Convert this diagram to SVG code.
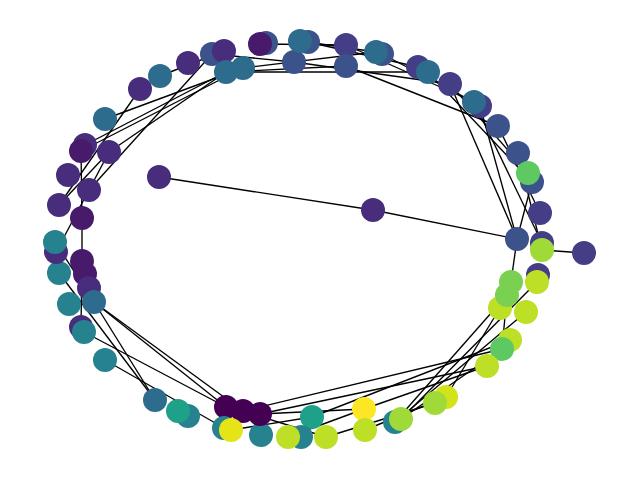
<svg xmlns="http://www.w3.org/2000/svg" width="640" height="480" viewBox="0 0 640 480">
<style>
.e line{stroke:#000;stroke-width:1.35}
circle{r:12}
.c0{fill:#440154}.c1{fill:#481a6c}.c2{fill:#472d7b}.c3{fill:#433e85}.c4{fill:#3b528b}.c5{fill:#2e6c8e}.c6{fill:#26828e}.c7{fill:#1fa088}.c8{fill:#5ec962}.c9{fill:#7ad151}.c10{fill:#a0da39}.c11{fill:#bddf26}.c12{fill:#fde725}.c13{fill:#e5e419}.c14{fill:#d2e21b}
</style>
<rect width="640" height="480" fill="#fff"/>
<g class="e" id="edges">
<line x1="81" y1="151" x2="82" y2="218"/>
<line x1="82" y1="218" x2="82" y2="261"/>
<line x1="109" y1="152" x2="59" y2="205"/>
<line x1="109" y1="152" x2="89" y2="190"/>
<line x1="89" y1="190" x2="56" y2="252"/>
<line x1="59" y1="205" x2="140" y2="89"/>
<line x1="85" y1="145" x2="226" y2="72"/>
<line x1="81" y1="151" x2="243" y2="68"/>
<line x1="105" y1="119" x2="243" y2="68"/>
<line x1="89" y1="190" x2="212" y2="54"/>
<line x1="109" y1="152" x2="226" y2="72"/>
<line x1="160" y1="76" x2="224" y2="51"/>
<line x1="226" y1="72" x2="346" y2="66"/>
<line x1="243" y1="68" x2="376" y2="52"/>
<line x1="212" y1="54" x2="294" y2="62"/>
<line x1="260" y1="44" x2="346" y2="45"/>
<line x1="300" y1="41" x2="376" y2="52"/>
<line x1="294" y1="62" x2="450" y2="84"/>
<line x1="308" y1="42" x2="418" y2="67"/>
<line x1="346" y1="66" x2="498" y2="126"/>
<line x1="346" y1="45" x2="474" y2="102"/>
<line x1="382" y1="54" x2="474" y2="102"/>
<line x1="226" y1="72" x2="428" y2="72"/>
<line x1="428" y1="72" x2="532" y2="182"/>
<line x1="450" y1="84" x2="528" y2="173"/>
<line x1="450" y1="84" x2="517" y2="239"/>
<line x1="474" y1="102" x2="542" y2="243"/>
<line x1="498" y1="126" x2="540" y2="213"/>
<line x1="532" y1="182" x2="517" y2="239"/>
<line x1="480" y1="106" x2="517" y2="239"/>
<line x1="517" y1="239" x2="511" y2="282"/>
<line x1="517" y1="239" x2="373" y2="210"/>
<line x1="373" y1="210" x2="159" y2="177"/>
<line x1="542" y1="250" x2="584" y2="253"/>
<line x1="518" y1="153" x2="542" y2="250"/>
<line x1="537" y1="282" x2="401" y2="419"/>
<line x1="526" y1="312" x2="395" y2="422"/>
<line x1="500" y1="308" x2="446" y2="397"/>
<line x1="507" y1="295" x2="502" y2="349"/>
<line x1="487" y1="366" x2="364" y2="409"/>
<line x1="502" y1="349" x2="401" y2="419"/>
<line x1="365" y1="430" x2="446" y2="397"/>
<line x1="326" y1="437" x2="435" y2="403"/>
<line x1="260" y1="414" x2="487" y2="366"/>
<line x1="312" y1="417" x2="510" y2="340"/>
<line x1="243" y1="411" x2="502" y2="349"/>
<line x1="395" y1="422" x2="507" y2="295"/>
<line x1="288" y1="437" x2="364" y2="409"/>
<line x1="260" y1="414" x2="364" y2="409"/>
<line x1="94" y1="302" x2="155" y2="400"/>
<line x1="94" y1="302" x2="226" y2="407"/>
<line x1="94" y1="302" x2="243" y2="411"/>
<line x1="84" y1="332" x2="226" y2="407"/>
<line x1="105" y1="360" x2="224" y2="428"/>
<line x1="82" y1="261" x2="81" y2="327"/>
<line x1="59" y1="273" x2="155" y2="400"/>
<line x1="55" y1="242" x2="94" y2="302"/>
<line x1="243" y1="411" x2="326" y2="437"/>
<line x1="231" y1="430" x2="312" y2="417"/>
</g>
<g id="n1"><circle class="c2" cx="140" cy="89"/></g>
<g id="n2"><circle class="c5" cx="160" cy="76"/></g>
<g id="n3"><circle class="c2" cx="188" cy="63"/></g>
<g id="n4"><circle class="c4" cx="212" cy="54"/></g>
<g id="n5"><circle class="c2" cx="224" cy="51"/></g>
<g id="n6"><circle class="c5" cx="226" cy="72"/></g>
<g id="n7"><circle class="c5" cx="243" cy="68"/></g>
<g id="n8"><circle class="c4" cx="266" cy="43"/></g>
<g id="n9"><circle class="c1" cx="260" cy="44"/></g>
<g id="n10"><circle class="c4" cx="294" cy="62"/></g>
<g id="n11"><circle class="c4" cx="308" cy="42"/></g>
<g id="n12"><circle class="c5" cx="300" cy="41"/></g>
<g id="n13"><circle class="c3" cx="346" cy="45"/></g>
<g id="n14"><circle class="c4" cx="346" cy="66"/></g>
<g id="n15"><circle class="c4" cx="382" cy="54"/></g>
<g id="n16"><circle class="c5" cx="376" cy="52"/></g>
<g id="n17"><circle class="c3" cx="418" cy="67"/></g>
<g id="n18"><circle class="c5" cx="428" cy="72"/></g>
<g id="n19"><circle class="c3" cx="450" cy="84"/></g>
<g id="n20"><circle class="c3" cx="480" cy="106"/></g>
<g id="n21"><circle class="c5" cx="474" cy="102"/></g>
<g id="n22"><circle class="c4" cx="498" cy="126"/></g>
<g id="n23"><circle class="c4" cx="518" cy="153"/></g>
<g id="n24"><circle class="c4" cx="532" cy="182"/></g>
<g id="n25"><circle class="c8" cx="528" cy="173"/></g>
<g id="n26"><circle class="c3" cx="540" cy="213"/></g>
<g id="n27"><circle class="c4" cx="517" cy="239"/></g>
<g id="n28"><circle class="c3" cx="542" cy="243"/></g>
<g id="n29"><circle class="c10" cx="542" cy="250"/></g>
<g id="n30"><circle class="c3" cx="584" cy="253"/></g>
<g id="n31"><circle class="c3" cx="538" cy="275"/></g>
<g id="n32"><circle class="c11" cx="537" cy="282"/></g>
<g id="n33"><circle class="c11" cx="500" cy="308"/></g>
<g id="n34"><circle class="c9" cx="507" cy="295"/></g>
<g id="n35"><circle class="c9" cx="511" cy="282"/></g>
<g id="n36"><circle class="c11" cx="526" cy="312"/></g>
<g id="n37"><circle class="c11" cx="510" cy="340"/></g>
<g id="n38"><circle class="c8" cx="502" cy="349"/></g>
<g id="n39"><circle class="c11" cx="487" cy="366"/></g>
<g id="n40"><circle class="c14" cx="446" cy="397"/></g>
<g id="n41"><circle class="c10" cx="435" cy="403"/></g>
<g id="n42"><circle class="c6" cx="395" cy="422"/></g>
<g id="n43"><circle class="c10" cx="401" cy="419"/></g>
<g id="n44"><circle class="c12" cx="364" cy="409"/></g>
<g id="n45"><circle class="c11" cx="365" cy="430"/></g>
<g id="n46"><circle class="c11" cx="326" cy="437"/></g>
<g id="n47"><circle class="c7" cx="312" cy="417"/></g>
<g id="n48"><circle class="c6" cx="301" cy="437"/></g>
<g id="n49"><circle class="c11" cx="288" cy="437"/></g>
<g id="n50"><circle class="c6" cx="261" cy="435"/></g>
<g id="n51"><circle class="c0" cx="226" cy="407"/></g>
<g id="n52"><circle class="c0" cx="243" cy="411"/></g>
<g id="n53"><circle class="c0" cx="260" cy="414"/></g>
<g id="n54"><circle class="c6" cx="224" cy="428"/></g>
<g id="n55"><circle class="c13" cx="231" cy="430"/></g>
<g id="n56"><circle class="c6" cx="188" cy="416"/></g>
<g id="n57"><circle class="c7" cx="178" cy="411"/></g>
<g id="n58"><circle class="c5" cx="155" cy="400"/></g>
<g id="n59"><circle class="c6" cx="105" cy="360"/></g>
<g id="n60"><circle class="c2" cx="81" cy="327"/></g>
<g id="n61"><circle class="c6" cx="84" cy="332"/></g>
<g id="n62"><circle class="c6" cx="69" cy="304"/></g>
<g id="n63"><circle class="c1" cx="82" cy="261"/></g>
<g id="n64"><circle class="c1" cx="85" cy="274"/></g>
<g id="n65"><circle class="c2" cx="89" cy="288"/></g>
<g id="n66"><circle class="c5" cx="94" cy="302"/></g>
<g id="n67"><circle class="c6" cx="59" cy="273"/></g>
<g id="n68"><circle class="c2" cx="56" cy="252"/></g>
<g id="n69"><circle class="c6" cx="55" cy="242"/></g>
<g id="n70"><circle class="c1" cx="82" cy="218"/></g>
<g id="n71"><circle class="c2" cx="59" cy="205"/></g>
<g id="n72"><circle class="c2" cx="89" cy="190"/></g>
<g id="n73"><circle class="c2" cx="68" cy="175"/></g>
<g id="n74"><circle class="c2" cx="109" cy="152"/></g>
<g id="n75"><circle class="c2" cx="85" cy="145"/></g>
<g id="n76"><circle class="c1" cx="81" cy="151"/></g>
<g id="n77"><circle class="c5" cx="105" cy="119"/></g>
<g id="n78"><circle class="c2" cx="159" cy="177"/></g>
<g id="n79"><circle class="c2" cx="373" cy="210"/></g>
</svg>
